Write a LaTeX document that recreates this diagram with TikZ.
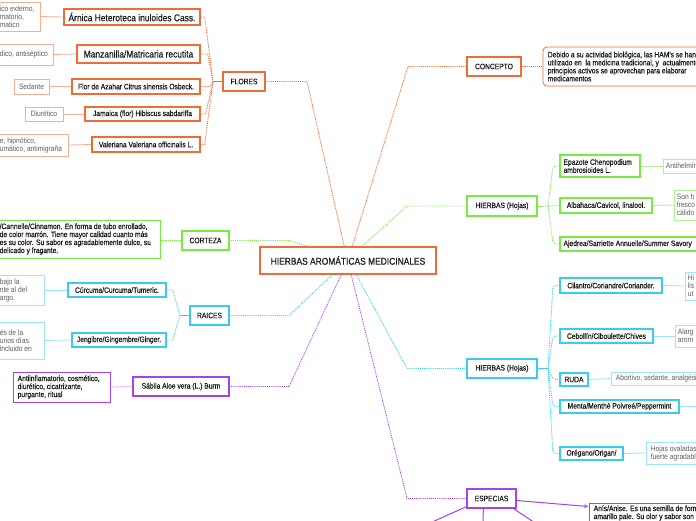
\documentclass[tikz,border=0pt]{standalone}
\usepackage{fontspec}
\setmainfont{Liberation Sans}[FakeStretch=0.86]
\newfontfamily\medf{Liberation Sans}[FakeStretch=0.86, FakeBold=0.45]
\usetikzlibrary{shadows,arrows.meta,backgrounds}
\definecolor{cOr}{HTML}{F26A35}
\definecolor{cOrL}{HTML}{F7AE92}
\definecolor{cGr}{HTML}{78EB3F}
\definecolor{cGrL}{HTML}{AEF294}
\definecolor{cBl}{HTML}{38CDF0}
\definecolor{cBlL}{HTML}{9EE6F7}
\definecolor{cPu}{HTML}{A143F2}
\definecolor{cPuL}{HTML}{C98BF5}
\definecolor{cTx}{HTML}{1A1A1A}
\definecolor{cGy}{HTML}{5E5E5E}
\tikzset{
 fn/.style={font=\fontsize{7.8}{8}\selectfont},
 fb/.style={font=\medf\fontsize{7.8}{8}\selectfont},
 fl/.style={font=\medf\fontsize{9.8}{11}\selectfont},
 br/.style={draw=#1, line width=1.3pt, fill=white, inner sep=0pt, text=cTx, fb,
   drop shadow={shadow xshift=0.7pt, shadow yshift=-0.9pt, opacity=0.22, fill=black}},
 lf/.style={draw=#1, line width=0.8pt, fill=white, inner sep=0pt, text=cGy, fn},
 tx/.style={anchor=west, inner xsep=3pt, inner ysep=0pt, align=left, fn},
 tb/.style={anchor=west, inner xsep=3pt, inner ysep=0pt, align=left, fb, text=cTx},
 dl/.style={draw=#1, densely dotted, line width=0.9pt},
 sl/.style={draw=#1, line width=0.8pt},
}
\begin{document}
\begin{tikzpicture}[x=1pt,y=-1pt]
\useasboundingbox (0,0) rectangle (696,520);
\clip (0,0) rectangle (696,520);

% centre
\node[br=cOr, fl, line width=1.6pt, minimum width=176, minimum height=27] (center) at (348,260.5) {HIERBAS AROMÁTICAS MEDICINALES};

% FLORES
\node[br=cOr, minimum width=42, minimum height=19] (flores) at (244,81.5) {FLORES};
\node[br=cOr, fl, line width=1.5pt, minimum width=136, minimum height=16] (arn) at (132,17) {Árnica Heteroteca inuloides Cass.};
\node[lf=cOrL, minimum width=43, minimum height=29, label={[tx, text=cGy, inner xsep=3pt]west:{ico externo,\\matorio,\\matico}}] (arnD) at (18.5,16.5) {};
\node[br=cOr, fl, line width=1.5pt, minimum width=123, minimum height=18] (man) at (138.5,54) {Manzanilla/Matricaria recutita};
\node[lf=cOrL, minimum width=56, minimum height=21, label={[tx, text=cGy]west:{dico, antiséptico}}] (manD) at (25,54.5) {};
\node[lf=cOrL, minimum width=35, minimum height=15] (sed) at (31.5,86.5) {Sedante};
\node[br=cOr, minimum width=128, minimum height=15] (fla) at (136,86.5) {Flor de Azahar Citrus sinensis Osbeck.};
\node[lf=cOrL, minimum width=38, minimum height=14] (diu) at (44,114) {Diurético};
\node[br=cOr, minimum width=115, minimum height=14] (jam) at (142.5,114) {Jamaica (flor) Hibiscus sabdariffa};
\node[lf=cOrL, minimum width=71, minimum height=22, label={[tx, text=cGy]west:{e, hipnótico,\\umático, antimigraña}}] (valD) at (32.5,145) {};
\node[br=cOr, minimum width=108, minimum height=15] (val) at (146,144.5) {Valeriana Valeriana officinalis L.};

% CONCEPTO
\node[br=cOr, minimum width=54, minimum height=19] (concepto) at (494,66.5) {CONCEPTO};
\node[lf=cOr, rounded corners=4pt, minimum width=177, minimum height=39, label={[tb, inner xsep=5pt]west:{Debido a su actividad biológica, las HAM's se han\\utilizado en\ \ la medicina tradicional, y\ \ actualmente sus\\principios activos se aprovechan para elaborar\\medicamentos}}] (conD) at (631.5,66.5) {};

% HIERBAS green
\node[br=cGr, minimum width=70, minimum height=20] (hojasG) at (502,206) {HIERBAS (Hojas)};
\node[br=cGr, minimum width=80, minimum height=22, label={[tb, inner xsep=4pt]west:{Epazote Chenopodium\\ambrosioides L.}}] (epa) at (600,166) {};
\node[lf=cGrL, minimum width=57, minimum height=14, label={[tx, text=cGy]west:{Antihelmíntico}}] (epaD) at (691.5,166) {};
\node[br=cGr, minimum width=92, minimum height=15] (alb) at (606,205.5) {Albahaca/Cavicol, linalool.};
\node[lf=cGrL, minimum width=46, minimum height=30, label={[tx, text=cGy]west:{Son h\\fresco\\cálido}}] (albD) at (697,205) {};
\node[br=cGr, minimum width=180, minimum height=14, label={[tb, inner xsep=4pt]west:{Ajedrea/Sarriette Annuelle/Summer Savory}}] (aje) at (650,244) {};

% CORTEZA
\node[br=cGr, minimum width=47, minimum height=19] (corteza) at (205.5,240.5) {CORTEZA};
\node[lf=cGr, line width=1pt, minimum width=163, minimum height=38, label={[tb]west:{/Cannelle/Cinnamon. En forma de tubo enrollado,\\de color marrón. Tiene mayor calidad cuanto más\\es su color. Su sabor es agradablemente dulce, su\\delicado y fragante.}}] (corD) at (78.5,239) {};

% HIERBAS blue
\node[br=cBl, minimum width=70, minimum height=19] (hojasB) at (502,368.5) {HIERBAS (Hojas)};
\node[br=cBl, minimum width=102, minimum height=15] (cil) at (611,285.5) {Cilantro/Coriandre/Coriander.};
\node[lf=cBlL, minimum width=35, minimum height=28, label={[tx, text=cGy]west:{Hi\\lis\\ut}}] (cilD) at (702.5,286) {};
\node[br=cBl, minimum width=93, minimum height=14] (ceb) at (606.5,336) {Cebollín/Ciboulette/Chives};
\node[lf=cBlL, minimum width=45, minimum height=22, label={[tx, text=cGy]west:{Alarg\\arom}}] (cebD) at (697.5,336) {};
\node[br=cBl, minimum width=28, minimum height=13] (ruda) at (574,379.5) {RUDA};
\node[lf=cBlL, minimum width=149, minimum height=13, label={[tx, text=cGy, inner xsep=5pt]west:{Abortivo, sedante, analgésico}}] (rudaD) at (685.5,378.5) {};
\node[br=cBl, minimum width=119, minimum height=13] (men) at (619.5,406.5) {Menta/Menthé Poivreé/Peppermint};
\node[br=cBl, minimum width=63, minimum height=13] (ore) at (591.5,453.5) {Orégano/Origan/};
\node[lf=cBlL, minimum width=114, minimum height=22, label={[tx, text=cGy, inner xsep=5pt]west:{Hojas ovaladas\\fuerte agradable}}] (oreD) at (703,453) {};
\coordinate (menE) at (700,406.5);

% RAICES
\node[br=cBl, minimum width=39, minimum height=19] (raices) at (209.5,315.5) {RAICES};
\node[br=cBl, minimum width=98, minimum height=14] (cur) at (117,290) {Cúrcuma/Curcuma/Tumeric.};
\node[lf=cBlL, minimum width=47, minimum height=30, label={[tx, text=cGy]west:{bajo la\\nte al del\\argo.}}] (curD) at (20.5,290) {};
\node[br=cBl, minimum width=94, minimum height=14] (jen) at (119,340) {Jengibre/Gingembre/Ginger.};
\node[lf=cBlL, minimum width=47, minimum height=37, label={[tx, text=cGy]west:{és de la\\unos días.\\incluido en}}] (jenD) at (20.5,340.5) {};

% SABILA
\node[br=cPu, minimum width=96, minimum height=19] (sab) at (181,386.5) {Sábila Aloe vera (L.) Burm};
\node[lf=cPu, line width=1pt, minimum width=97, minimum height=30, label={[tb, inner xsep=5pt]west:{Antiinflamatorio, cosmético,\\diurético, cicatrizante,\\purgante, ritual}}] (sabD) at (61.5,387) {};

% ESPECIAS
\node[br=cPu, minimum width=49, minimum height=19] (esp) at (491.5,498.5) {ESPECIAS};
\node[lf=cPu, line width=1pt, minimum width=171, minimum height=20, label={[tb, inner xsep=5pt]west:{Anís/Anise. Es una semilla de forma\\amarillo pale. Su olor y sabor son}}] (anis) at (674.5,513) {};
\coordinate (e1) at (430,523);
\coordinate (e2) at (483,523);
\coordinate (e3) at (535,523);

% junctions
\coordinate (fj) at (213,81.5);
\coordinate (gj) at (548,206);
\coordinate (bj) at (548,368.5);
\coordinate (rj) at (180,315.5);

\begin{scope}[on background layer]
\clip (0,0) rectangle (696,520);
\fill[white] (0,0) rectangle (696,520);
% FLORES fan
\draw[dl=cOr] (arn.east) -- ++(4,0) -- (fj);
\draw[dl=cOr] (man.east) -- ++(7,0) -- (fj);
\draw[dl=cOr] (fla.east) -- ++(9,0) -- (fj);
\draw[dl=cOr] (jam.east) -- ++(5,0) -- (fj);
\draw[dl=cOr] (val.east) -- ++(4,0) -- (fj);
\draw[cOr, line width=1pt] (fj) -- (flores.west);
\draw[sl=cOrL] (arnD.east) -- (arn.west);
\draw[sl=cOrL] (manD.east) -- (man.west);
\draw[sl=cOrL] (sed.east) -- (fla.west);
\draw[sl=cOrL] (diu.east) -- (jam.west);
\draw[sl=cOrL] (valD.east) -- (val.west);
% centre links
\draw[dl=cOr] (flores.east) -- (307,81.5) -- ([xshift=85pt]center.north west);
\draw[dl=cOr] ([xshift=93pt]center.north west) -- (408,66.5) -- (concepto.west);
\draw[dl=cOr] (concepto.east) -- (conD.west);
\draw[dl=cGr] ([xshift=103pt]center.north west) -- (407,206) -- (hojasG.west);
\draw[dl=cGr] ([xshift=48pt]center.north west) -- (289,240.5) -- (corteza.east);
\draw[dl=cGr] (corteza.west -| corD.east) -- (corteza.west);
\draw[dl=cBl] ([xshift=97pt]center.south west) -- (407,368.5) -- (hojasB.west);
\draw[dl=cBl] ([xshift=73pt]center.south west) -- (289,315.5) -- (raices.east);
\draw[dl=cPu] ([xshift=82pt]center.south west) -- (289,386.5) -- (sab.east);
\draw[dl=cPu] ([xshift=92pt]center.south west) -- (407,498.5) -- (esp.west);
\draw[dl=cPuL] (sabD.east) -- (sab.west);
% green fan
\draw[dl=cGr] (hojasG.east) -- (gj);
\draw[dl=cGr, rounded corners=3pt] (gj) -- (553,166) -- (epa.west);
\draw[dl=cGr] (gj) -- (alb.west);
\draw[dl=cGr, rounded corners=3pt] (gj) -- (553,244) -- (aje.west);
\draw[sl=cGrL] (epa.east) -- (epaD.west);
\draw[sl=cGrL] (alb.east) -- (albD.west);
% blue fan
\draw[sl=cBl] (hojasB.east) -- (bj);
\draw[dl=cBl, rounded corners=3pt] (bj) -- (553,285.5) -- (cil.west);
\draw[dl=cBl, rounded corners=3pt] (bj) -- (553,336) -- (ceb.west);
\draw[dl=cBl, rounded corners=3pt] (bj) -- (553,379.5) -- (ruda.west);
\draw[dl=cBl, rounded corners=3pt] (bj) -- (553,406.5) -- (men.west);
\draw[dl=cBl, rounded corners=3pt] (bj) -- (553,453.5) -- (ore.west);
\draw[sl=cBlL] (cil.east) -- (cilD.west);
\draw[sl=cBlL] (ceb.east) -- (cebD.west);
\draw[sl=cBlL] (ruda.east) -- (rudaD.west);
\draw[sl=cBlL] (men.east) -- (menE);
\draw[sl=cBlL] (ore.east) -- (oreD.west);
% raices fan
\draw[dl=cBl] (cur.east) -- ++(6,0) -- (rj);
\draw[dl=cBl] (jen.east) -- ++(6,0) -- (rj);
\draw[sl=cBl] (rj) -- (raices.west);
\draw[sl=cBlL] (curD.east) -- (cur.west);
\draw[sl=cBlL] (jenD.east) -- (jen.west);
% especias
\draw[cPu, line width=1pt, -{Stealth[length=4.5pt,width=3.5pt]}] ([yshift=-2pt]esp.east) -- ([yshift=-4pt]anis.north west);
\draw[cPu, line width=1pt] ([yshift=2pt]esp.south west) -- (e1);
\draw[cPu, line width=1pt] ([xshift=17pt]esp.south west) -- (e2);
\draw[cPu, line width=1pt] ([xshift=-3pt]esp.south east) -- (e3);
\end{scope}
\end{tikzpicture}
\end{document}
